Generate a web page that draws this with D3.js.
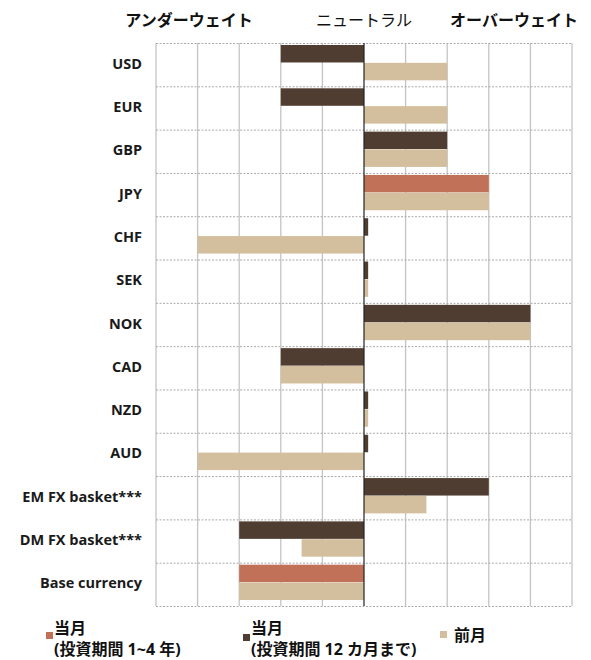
<!DOCTYPE html>
<html>
<head>
<meta charset="utf-8">
<script src="https://cdn.jsdelivr.net/npm/d3@7"></script>
<style>
  body { margin: 0; background: #fff; }
  svg text { font-family: "Open Sans", "Noto Sans CJK JP", sans-serif; }
</style>
</head>
<body>
<svg id="chart" width="591" height="660"></svg>
<script>
// data
const categories = ['USD', 'EUR', 'GBP', 'JPY', 'CHF', 'SEK', 'NOK', 'CAD', 'NZD', 'AUD',
  'EM FX basket***', 'DM FX basket***', 'Base currency'];
// current month, horizon 1-4 years
const current1to4 = [null, null, null, 3, null, null, null, null, null, null, null, null, -3];
// current month, horizon up to 12 months
const current12m = [-2, -2, 2, null, 0.1, 0.1, 4, -2, 0.1, 0.1, 3, -3, null];
// previous month
const previous = [2, 2, 2, 3, -4, 0.1, 4, -2, 0.1, -4, 1.5, -1.5, -3];
const xTicks = d3.range(-5, 6);

const colors = { c14: '#c17157', c12: '#4f3d31', prev: '#d3bf9d' };

const svg = d3.select('#chart');
const plotLeft = 156, plotRight = 572, plotTop = 43, plotBottom = 606;

const x = d3.scaleLinear().domain([-5, 5]).range([plotLeft, plotRight]);
const y = d3.scaleBand().domain(categories).range([plotTop, plotBottom]);
const sub = d3.scaleBand().domain(['cur', 'prev']).range([2, y.bandwidth() - 6]).paddingInner(0.02);

// vertical grid
svg.append('g').selectAll('line')
  .data(xTicks.filter(d => d !== 0))
  .enter()
  .append('line')
  .attr('x1', d => x(d)).attr('x2', d => x(d))
  .attr('y1', plotTop).attr('y2', plotBottom)
  .attr('stroke', '#c4c4c4')
  .attr('stroke-width', 1.3);

// horizontal dashed separators
const seps = categories.map(c => y(c)).concat([plotBottom]);
svg.append('g').selectAll('line')
  .data(seps)
  .enter()
  .append('line')
  .attr('x1', plotLeft).attr('x2', plotRight)
  .attr('y1', d => d + 0.5).attr('y2', d => d + 0.5)
  .attr('stroke', '#aaa')
  .attr('stroke-width', 1)
  .attr('stroke-dasharray', '2,1.5');

const rows = svg.append('g').selectAll('g')
  .data(categories)
  .enter()
  .append('g')
  .attr('transform', d => `translate(0,${y(d)})`);

const topVal = i => (current1to4[i] !== null ? current1to4[i] : current12m[i]);

// top bar: orange or dark
rows.filter((d, i) => topVal(i) !== null)
  .append('rect')
  .attr('x', d => Math.min(x(0), x(topVal(categories.indexOf(d)))))
  .attr('width', d => Math.abs(x(topVal(categories.indexOf(d))) - x(0)))
  .attr('y', sub('cur'))
  .attr('height', sub.bandwidth())
  .attr('fill', d => (current1to4[categories.indexOf(d)] !== null ? colors.c14 : colors.c12));

rows.append('rect')
  .attr('x', (d, i) => Math.min(x(0), x(previous[i])))
  .attr('width', (d, i) => Math.abs(x(previous[i]) - x(0)))
  .attr('y', sub('prev'))
  .attr('height', sub.bandwidth())
  .attr('fill', colors.prev);

// center line
svg.append('line')
  .attr('x1', x(0)).attr('x2', x(0))
  .attr('y1', plotTop).attr('y2', plotBottom)
  .attr('stroke', '#222')
  .attr('stroke-width', 1.2);

// category labels
rows.append('text')
  .attr('x', 142)
  .attr('y', y.bandwidth() / 2 - 1)
  .attr('dy', '0.35em')
  .attr('text-anchor', 'end')
  .attr('font-size', 14.5)
  .attr('font-weight', 'bold')
  .attr('fill', '#1a1a1a')
  .text(d => d);

// header
const header = [
  { t: 'アンダーウェイト', x: 189, w: 'bold' },
  { t: 'ニュートラル', x: 364, w: 'normal' },
  { t: 'オーバーウェイト', x: 514, w: 'bold' },
];
svg.append('g').selectAll('text')
  .data(header)
  .enter()
  .append('text')
  .attr('x', d => d.x)
  .attr('y', 26)
  .attr('text-anchor', 'middle')
  .attr('font-size', 16)
  .attr('font-weight', d => d.w)
  .attr('font-family', '"Noto Sans CJK JP", sans-serif')
  .attr('fill', '#111')
  .text(d => d.t);

// legend
const legend = [
  { c: colors.c14, x: 46, sy: 632, lines: ['当月', '(投資期間 1~4 年)'] },
  { c: colors.c12, x: 243, sy: 634, lines: ['当月', '(投資期間 12 カ月まで)'] },
  { c: colors.prev, x: 440, sy: 631, lines: ['前月'] },
];
const lg = svg.append('g').selectAll('g')
  .data(legend)
  .enter()
  .append('g');
lg.append('rect')
  .attr('x', d => d.x)
  .attr('y', d => d.sy)
  .attr('width', 7)
  .attr('height', 7)
  .attr('fill', d => d.c);
lg.each(function (d) {
  const g = d3.select(this);
  d.lines.forEach((l, i) => {
    g.append('text')
      .attr('x', d.x + (d.lines.length === 1 ? 14 : 8))
      .attr('y', d.lines.length === 1 ? 641 : 634 + i * 21)
      .attr('font-size', 16)
      .attr('font-weight', 'bold')
      .attr('font-family', '"Noto Sans CJK JP", sans-serif')
      .attr('fill', '#111')
      .text(l);
  });
});
</script>
</body>
</html>
